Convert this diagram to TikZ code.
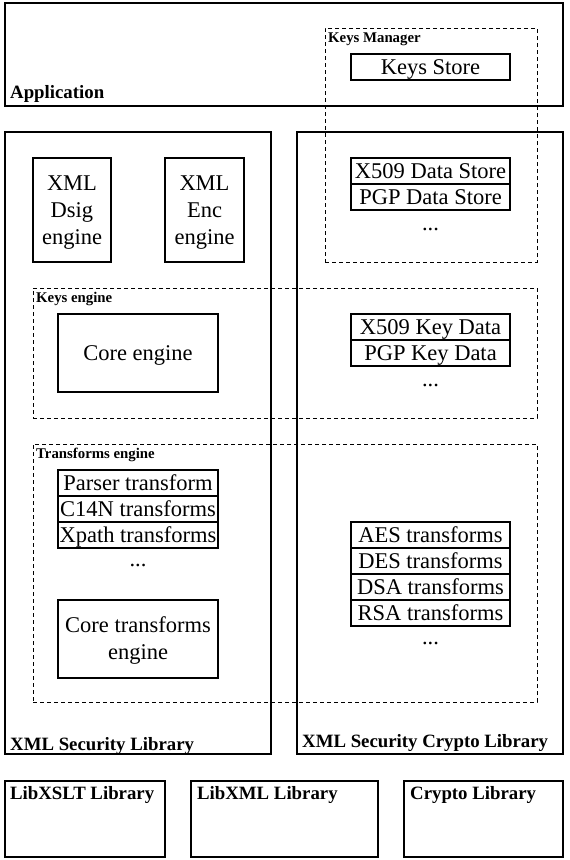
\documentclass[tikz,border=0pt]{standalone}
\usepackage{fontspec}
\setmainfont{Liberation Serif}
\newcommand\mystrut{\rule[-5pt]{0pt}{24pt}}
\begin{document}
\begin{tikzpicture}[x=1pt,y=-1pt,
  box/.style={draw,line width=1.2pt,rectangle,inner sep=0pt,align=center,
    font=\fontsize{22.5}{27}\selectfont},
  dbox/.style={draw,line width=1pt,rectangle,inner sep=0pt,dash pattern=on 4pt off 3pt},
  row/.style={box,minimum width=159pt,minimum height=26pt},
  txt/.style={inner sep=0pt,font=\fontsize{22.5}{27}\selectfont},
  biglab/.style={inner sep=0pt,anchor=base west,font=\fontsize{18.8}{20}\selectfont\bfseries},
  smalllab/.style={inner sep=0pt,anchor=base west,font=\fontsize{14.8}{16}\selectfont\bfseries}]
\useasboundingbox (0,0) rectangle (570,860);
% outer boxes
\node[box,minimum width=558pt,minimum height=103pt] (app) at (284,54.5) {};
\node[biglab] (applab) at (10,98) {Application};
\node[box,minimum width=266pt,minimum height=622pt] (xmlsec) at (138,443) {};
\node[biglab] (xmlseclab) at (10,750) {XML Security Library};
\node[box,minimum width=266pt,minimum height=622pt] (crypto) at (430,443) {};
\node[biglab] (cryptolab) at (302,747) {XML Security Crypto Library};
% keys manager
\node[dbox,minimum width=212pt,minimum height=234pt] (keysmgr) at (431,145) {};
\node[smalllab] (keysmgrlab) at (328,42) {Keys Manager};
\node[row] (keysstore) at (430.5,67) {\mystrut Keys Store};
\node[row] (x509ds) at (430.5,171) {\mystrut X509 Data Store};
\node[row] (pgpds) at (430.5,197) {\mystrut PGP Data Store};
\node[txt,anchor=base] (dots1) at (430.5,230) {...};
% engines
\node[box,minimum width=78pt,minimum height=104pt] (dsig) at (72,210) {\mystrut XML\\Dsig\\engine\mystrut};
\node[box,minimum width=79pt,minimum height=104pt] (enc) at (204.5,210) {\mystrut XML\\Enc\\engine\mystrut};
% keys engine
\node[dbox,minimum width=504pt,minimum height=130pt] (keyseng) at (285,353) {};
\node[smalllab] (keysenglab) at (36,302) {Keys engine};
\node[box,minimum width=160pt,minimum height=78pt] (core) at (138,353) {\mystrut Core engine};
\node[row] (x509kd) at (430.5,327) {\mystrut X509 Key Data};
\node[row] (pgpkd) at (430.5,353) {\mystrut PGP Key Data};
\node[txt,anchor=base] (dots2) at (430.5,386) {...};
% transforms engine
\node[dbox,minimum width=504pt,minimum height=258pt] (transeng) at (285,573) {};
\node[smalllab] (transenglab) at (36,458) {Transforms engine};
\node[row,minimum width=160pt] (parser) at (138,483) {\mystrut Parser transform};
\node[row,minimum width=160pt] (c14n) at (138,509) {\mystrut C14N transforms};
\node[row,minimum width=160pt] (xpath) at (138,535) {\mystrut Xpath transforms};
\node[txt,anchor=base] (dots3) at (138,566) {...};
\node[box,minimum width=160pt,minimum height=78pt] (coretr) at (138,639) {\mystrut Core transforms\\engine\mystrut};
\node[row] (aes) at (430.5,535) {\mystrut AES transforms};
\node[row] (des) at (430.5,561) {\mystrut DES transforms};
\node[row] (dsa) at (430.5,587) {\mystrut DSA transforms};
\node[row] (rsa) at (430.5,613) {\mystrut RSA transforms};
\node[txt,anchor=base] (dots4) at (430.5,644) {...};
% bottom libraries
\node[box,minimum width=160pt,minimum height=76pt] (libxslt) at (85,819) {};
\node[biglab] (libxsltlab) at (10,799) {LibXSLT Library};
\node[box,minimum width=187pt,minimum height=76pt] (libxml) at (284.5,819) {};
\node[biglab] (libxmllab) at (197,799) {LibXML Library};
\node[box,minimum width=159pt,minimum height=76pt] (cryptolib) at (483.5,819) {};
\node[biglab] (cryptoliblab) at (410,799) {Crypto Library};
\end{tikzpicture}
\end{document}
